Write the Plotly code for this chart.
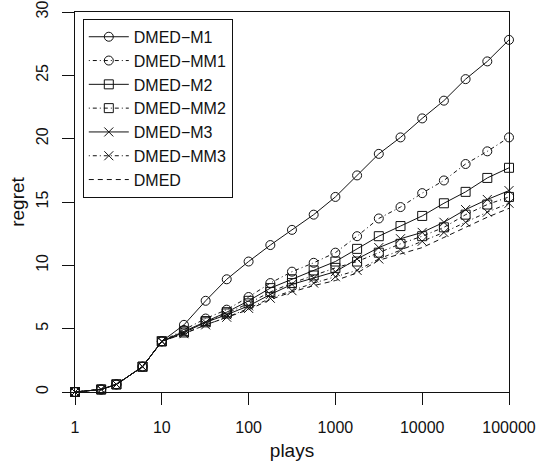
import plotly.graph_objects as go

plays = [1, 2, 3, 6, 10, 18, 32, 56, 100, 178, 316, 562, 1000, 1778, 3162,
         5623, 10000, 17783, 31623, 56234, 100000]

dmed_m1 = [0, 0.2, 0.6, 2.0, 4.0, 5.3, 7.2, 8.9, 10.3, 11.6, 12.8, 14.0, 15.4,
           17.1, 18.8, 20.1, 21.6, 23.0, 24.7, 26.1, 27.8]
dmed_mm1 = [0, 0.2, 0.6, 2.0, 4.0, 4.9, 5.8, 6.5, 7.5, 8.6, 9.5, 10.2, 11.0,
            12.3, 13.7, 14.6, 15.7, 16.7, 18.0, 19.0, 20.1]
dmed_m2 = [0, 0.2, 0.6, 2.0, 4.0, 4.8, 5.6, 6.3, 7.2, 8.2, 8.9, 9.6, 10.3,
           11.3, 12.3, 13.1, 13.9, 14.9, 15.8, 16.9, 17.7]
dmed_mm2 = [0, 0.2, 0.6, 2.0, 4.0, 4.7, 5.5, 6.2, 7.0, 7.9, 8.6, 9.2, 9.8,
            10.3, 11.0, 11.7, 12.3, 13.0, 14.0, 14.8, 15.4]
dmed_m3 = [0, 0.2, 0.6, 2.0, 4.0, 4.7, 5.5, 6.1, 6.8, 7.7, 8.5, 9.0, 9.5,
           10.5, 11.4, 12.1, 12.6, 13.4, 14.4, 15.2, 15.9]
dmed_mm3 = [0, 0.2, 0.6, 2.0, 4.0, 4.6, 5.3, 5.9, 6.6, 7.4, 8.0, 8.6, 9.1,
            9.6, 10.5, 11.2, 11.9, 12.6, 13.4, 14.2, 14.9]
dmed = [0, 0.2, 0.6, 2.0, 4.0, 4.6, 5.3, 5.9, 6.5, 7.3, 7.9, 8.4, 8.8,
        9.4, 10.4, 10.9, 11.4, 12.2, 13.0, 13.8, 14.5]

x_tickvals = [1, 10, 100, 1000, 10000, 100000]
x_ticktext = ["1", "10", "100", "1000", "10000", "100000"]
y_tickvals = [0, 5, 10, 15, 20, 25, 30]
y_ticktext = ["0", "5", "10", "15", "20", "25", "30"]

DOTDASH = "1px,3px,4px,3px"
DASH = "5px,4px"

series = [
    ("DMED\u2212M1", dmed_m1, "solid", "circle-open"),
    ("DMED\u2212MM1", dmed_mm1, DOTDASH, "circle-open"),
    ("DMED\u2212M2", dmed_m2, "solid", "square-open"),
    ("DMED\u2212MM2", dmed_mm2, DOTDASH, "square-open"),
    ("DMED\u2212M3", dmed_m3, "solid", "x-thin-open"),
    ("DMED\u2212MM3", dmed_mm3, DOTDASH, "x-thin-open"),
    ("DMED", dmed, DASH, None),
]

INK = "#111"

fig = go.Figure()
for name, vals, dash, sym in series:
    if sym:
        fig.add_trace(go.Scatter(
            x=plays, y=vals, name=name, mode="lines+markers",
            line=dict(color=INK, width=1, dash=dash),
            marker=dict(symbol=sym, size=9, color=INK,
                        line=dict(color=INK, width=1)),
            cliponaxis=False,
        ))
    else:
        fig.add_trace(go.Scatter(
            x=plays, y=vals, name=name, mode="lines",
            line=dict(color=INK, width=1, dash=dash),
            cliponaxis=False,
        ))

FAMILY = "Liberation Sans, Arial, sans-serif"
font = dict(family=FAMILY, size=16, color=INK)

fig.update_layout(
    width=548, height=461,
    margin=dict(l=75, r=39, t=12, b=69, autoexpand=False),
    paper_bgcolor="white", plot_bgcolor="white",
    font=font,
    showlegend=True,
    legend=dict(x=0.018, y=0.982, xanchor="left", yanchor="top",
                bgcolor="white", bordercolor=INK, borderwidth=1,
                font=dict(family=FAMILY, size=16, color=INK),
                tracegroupgap=0, itemwidth=40),
    xaxis=dict(type="log", range=[0, 5], tickvals=x_tickvals, ticktext=x_ticktext,
               showgrid=False, zeroline=False, showline=True, mirror=True,
               linecolor=INK, linewidth=1, ticks="outside", ticklen=12,
               tickcolor=INK, tickwidth=1, ticklabelstandoff=9, automargin=False,
               ticklabeloverflow="allow",
               title=dict(text="plays", standoff=9)),
    yaxis=dict(range=[0, 30], tickvals=y_tickvals, ticktext=y_ticktext,
               showgrid=False, zeroline=False, showline=True, mirror=True,
               linecolor=INK, linewidth=1, ticks="outside", ticklen=12,
               tickcolor=INK, tickwidth=1, tickangle=-90, ticklabelstandoff=8,
               automargin=False, ticklabeloverflow="allow",
               title=dict(text="regret", standoff=3)),
)

fig.write_html("out.html",
               config={"displayModeBar": False},
               post_script="document.body.style.margin='0';document.body.style.overflow='hidden';")
